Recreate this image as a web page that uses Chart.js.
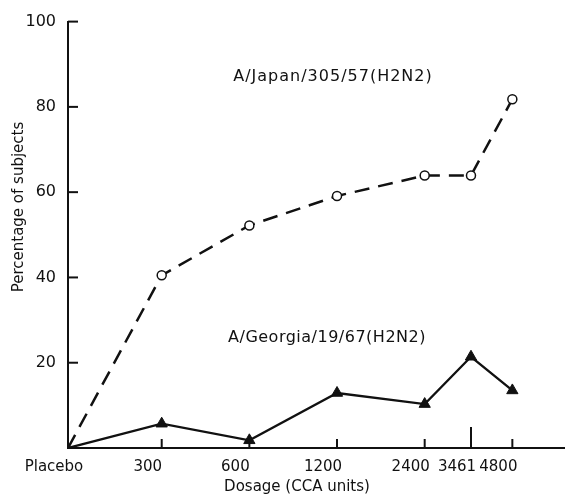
<!DOCTYPE html>
<html>
<head>
<meta charset="utf-8">
<script src="https://cdn.jsdelivr.net/npm/chart.js@4/dist/chart.umd.min.js"></script>
<style>
  html, body { margin: 0; padding: 0; background: #fff; }
  #wrap { width: 572px; height: 495px; }
</style>
</head>
<body>
<div id="wrap"><canvas id="chart" width="572" height="495"></canvas></div>
<script>
// data
const doses = ['Placebo', 300, 600, 1200, 2400, 3461, 4800]
const japanValues = [0, 40.5, 52.2, 59.1, 63.9, 63.9, 81.8]
const georgiaValues = [0, 5.7, 1.8, 12.9, 10.3, 21.4, 13.5]
const yTicks = [20, 40, 60, 80, 100]
const japanLabel = 'A/Japan/305/57(H2N2)'
const georgiaLabel = 'A/Georgia/19/67(H2N2)'

// placebo sits at the left end of the log dose axis
const placeboX = 143
const xMax = 7250

const toX = (d) => (d === 'Placebo' ? placeboX : d)
const points = (values) => doses.map((d, i) => ({ x: toX(d), y: values[i] }))

const FONT = "'DejaVu Sans', sans-serif"
const INK = '#111'

// inner tick marks, axis titles and series captions
const decorations = {
  id: 'decorations',
  beforeDatasetsDraw(chart) {
    const { ctx, scales: { x, y }, chartArea } = chart
    ctx.save()
    ctx.strokeStyle = INK
    ctx.lineWidth = 2
    yTicks.forEach((v) => {
      const py = y.getPixelForValue(v)
      ctx.beginPath()
      ctx.moveTo(chartArea.left, py)
      ctx.lineTo(chartArea.left + 10, py)
      ctx.stroke()
    })
    doses.forEach((d) => {
      if (d === 'Placebo') return
      const px = x.getPixelForValue(d)
      const len = d === 3461 ? 21 : 9
      ctx.beginPath()
      ctx.moveTo(px, chartArea.bottom)
      ctx.lineTo(px, chartArea.bottom - len)
      ctx.stroke()
    })
    ctx.restore()
  },
  afterDraw(chart) {
    const { ctx } = chart
    ctx.save()
    ctx.fillStyle = INK
    ctx.textAlign = 'center'
    ctx.textBaseline = 'middle'
    ctx.font = '15px ' + FONT
    ctx.fillText('Dosage (CCA units)', 297, 487)
    ctx.save()
    ctx.translate(19, 207)
    ctx.rotate(-Math.PI / 2)
    ctx.fillText('Percentage of subjects', 0, 0)
    ctx.restore()
    ctx.font = '16px ' + FONT
    ctx.letterSpacing = '1px'
    ctx.fillText(japanLabel, 333, 77)
    ctx.letterSpacing = '0.5px'
    ctx.fillText(georgiaLabel, 327, 338)
    ctx.restore()
  }
}

new Chart(document.getElementById('chart'), {
  type: 'line',
  data: {
    datasets: [
      {
        label: japanLabel,
        data: points(japanValues),
        borderColor: INK,
        borderWidth: 2.5,
        borderDash: [15, 9],
        pointStyle: 'circle',
        pointRadius: [0, 4.5, 4.5, 4.5, 4.5, 4.5, 4.5],
        pointBackgroundColor: '#fff',
        pointBorderColor: INK,
        pointBorderWidth: 1.5,
        tension: 0
      },
      {
        label: georgiaLabel,
        data: points(georgiaValues),
        borderColor: INK,
        borderWidth: 2.3,
        pointStyle: 'triangle',
        pointRadius: [0, 6.5, 6.5, 6.5, 6.5, 6.5, 6.5],
        pointBackgroundColor: INK,
        pointBorderColor: INK,
        pointBorderWidth: 1,
        tension: 0
      }
    ]
  },
  options: {
    responsive: false,
    animation: false,
    layout: { padding: { top: 13, right: 7, left: 0, bottom: 0 } },
    plugins: {
      legend: { display: false },
      tooltip: { enabled: false }
    },
    scales: {
      x: {
        type: 'logarithmic',
        min: placeboX,
        max: xMax,
        afterBuildTicks(scale) {
          scale.ticks = doses.map((d) => ({ value: toX(d) }))
        },
        afterFit(scale) {
          scale.height = 47
        },
        grid: { display: false, drawTicks: false },
        border: { display: true, color: INK, width: 2 },
        ticks: {
          autoSkip: false,
          maxRotation: 0,
          padding: 10,
          labelOffset: -14,
          color: INK,
          font: { family: FONT, size: 15 },
          callback(value) {
            return value === placeboX ? 'Placebo' : String(value)
          }
        }
      },
      y: {
        min: 0,
        max: 100,
        afterBuildTicks(scale) {
          scale.ticks = yTicks.map((v) => ({ value: v }))
        },
        afterFit(scale) {
          scale.width = 68
        },
        grid: { display: false, drawTicks: false },
        border: { display: true, color: INK, width: 2 },
        ticks: {
          padding: 12,
          color: INK,
          font: { family: FONT, size: 16 }
        }
      }
    }
  },
  plugins: [decorations]
})
</script>
</body>
</html>
